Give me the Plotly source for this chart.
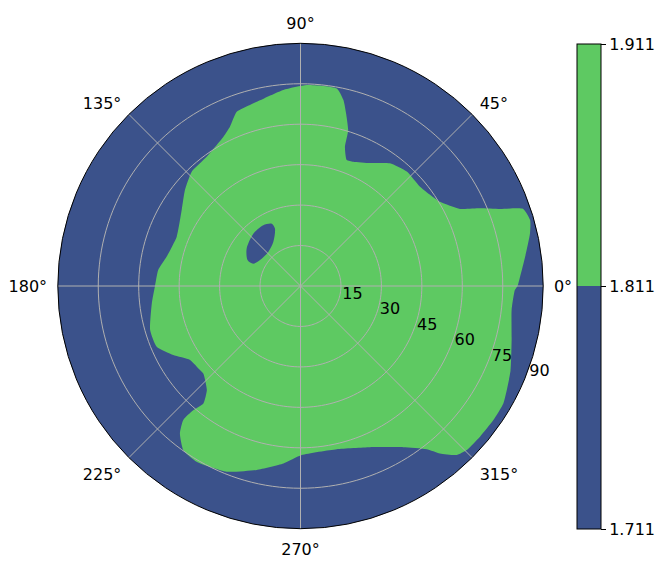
import plotly.graph_objects as go

# Boundary of the upper contour band (1.811 - 1.911): (angle in degrees, radius)
band_boundary = [
    (0, 80.5), (2.4, 81.5), (7.4, 84), (12.9, 87.3), (16, 88.6), (19.1, 87.4), (21.1, 79.3),
    (23.4, 72.5), (25.8, 65.7), (31.1, 60.4), (39.7, 57.6), (47.1, 57.9), (53.9, 56.3),
    (60.5, 52.4), (67, 50.1), (69.9, 49.8), (72.3, 54.2), (73, 60.5), (77, 70.8), (79.6, 74.5),
    (88.2, 74.6), (95, 73), (105.6, 69.7), (110.1, 68.8), (113.9, 64.6), (117.3, 62.3),
    (126, 59.2), (133.6, 58.5), (140.3, 55.7), (147.4, 52.3), (158.3, 49.4), (167.6, 50.8),
    (173.6, 53.1), (180.3, 54), (186.6, 55.5), (196.3, 58.1), (202.9, 57.9), (208.5, 53.7),
    (213.8, 49.3), (219.9, 48.6), (222, 48.5), (228, 51.9), (230.4, 56.5), (229.2, 60.9),
    (228.8, 66), (230.7, 70.6), (234.5, 74.8), (239.4, 75.7), (248.3, 74.1), (256.6, 70.1),
    (264.5, 66.1), (270.4, 62.7), (282.5, 62), (293.3, 65.1), (302.5, 70.9), (307.7, 76.5),
    (309.8, 80.8), (312.7, 85.3), (315.4, 86.6), (320, 86.9), (325.2, 87.1), (330, 86.9),
    (338, 84), (345.7, 80.8), (353.5, 78.8), (358.9, 79.5), (360, 80.5),
]
band_theta = [p[0] for p in band_boundary]
band_r = [p[1] for p in band_boundary]

# Small hole of the lower band inside the upper band: (angle, radius)
hole_boundary = [
    (114.8, 25.4), (114, 23.3), (121.7, 19.2), (133.4, 17.4), (144.9, 17.6), (154.7, 19.4),
    (154, 21.8), (145.3, 24.3), (132.1, 26.1), (121.5, 26.4), (114.8, 25.4),
]
hole_theta = [p[0] for p in hole_boundary]
hole_r = [p[1] for p in hole_boundary]

levels = [1.711, 1.811, 1.911]
level_labels = ["1.711", "1.811", "1.911"]
angle_ticks = [0, 45, 90, 135, 180, 225, 270, 315]
radial_ticks = [15, 30, 45, 60, 75, 90]
r_max = 90

low_color = "#3b528b"
high_color = "#5ec962"
grid_color = "#b0b0b0"
font = dict(family="DejaVu Sans", size=16, color="black")

fig = go.Figure()
fig.add_trace(go.Scatterpolar(
    r=band_r, theta=band_theta, mode="lines", fill="toself",
    fillcolor=high_color, line=dict(width=0, color=high_color, shape="spline", smoothing=0.5),
    hoverinfo="skip", showlegend=False))
fig.add_trace(go.Scatterpolar(
    r=hole_r, theta=hole_theta, mode="lines", fill="toself",
    fillcolor=low_color, line=dict(width=0, color=low_color, shape="spline", smoothing=0.8),
    hoverinfo="skip", showlegend=False))

# grid drawn above the filled contours (as matplotlib does)
circle_theta = list(range(0, 361, 2))
for rv in radial_ticks[:-1]:
    fig.add_trace(go.Scatterpolar(r=[rv] * len(circle_theta), theta=circle_theta, mode="lines",
                                  line=dict(color=grid_color, width=1), hoverinfo="skip", showlegend=False))
for a in angle_ticks:
    fig.add_trace(go.Scatterpolar(r=[0, r_max], theta=[a, a], mode="lines",
                                  line=dict(color=grid_color, width=1), hoverinfo="skip", showlegend=False))

# colorbar carrier
fig.add_trace(go.Scatterpolar(
    r=[0, 0], theta=[0, 0], mode="markers",
    marker=dict(size=0.1, opacity=0, color=[levels[0], levels[-1]], cmin=levels[0], cmax=levels[-1],
                colorscale=[[0, low_color], [0.5, low_color], [0.5, high_color], [1, high_color]],
                showscale=True,
                colorbar=dict(thickness=24, len=485/563, lenmode="fraction", y=0.4911, yanchor="middle",
                              x=577/665, xanchor="left", xpad=0, ypad=0,
                              outlinewidth=1, outlinecolor="black",
                              tickvals=levels, ticktext=level_labels, ticks="outside", ticklen=5,
                              tickcolor="black", tickfont=font)),
    hoverinfo="skip", showlegend=False))

fig.update_layout(
    width=665, height=563, margin=dict(l=0, r=0, t=0, b=0),
    paper_bgcolor="white", font=font,
    polar=dict(
        domain=dict(x=[(300.5-242.7)/665, (300.5+242.7)/665], y=[(277-242.7)/563, (277+242.7)/563]),
        bgcolor=low_color,
        angularaxis=dict(direction="counterclockwise", rotation=0, tickmode="array",
                         tickvals=angle_ticks, ticktext=[f"{a}°" for a in angle_ticks],
                         showgrid=False, showline=True, linecolor="black", linewidth=1,
                         ticks="outside", ticklen=7, tickcolor="rgba(0,0,0,0)", tickfont=font),
        radialaxis=dict(range=[0, r_max], tickmode="array", tickvals=radial_ticks,
                        ticktext=[str(v) for v in radial_ticks], angle=-22.5, tickangle=-22.5,
                        side="counterclockwise",
                        showline=False, ticks="", showgrid=False, tickfont=font),
    ),
)
fig.write_html("out.html", config={"displayModeBar": False},
               post_script="document.body.style.margin='0';document.body.style.overflow='hidden';")
